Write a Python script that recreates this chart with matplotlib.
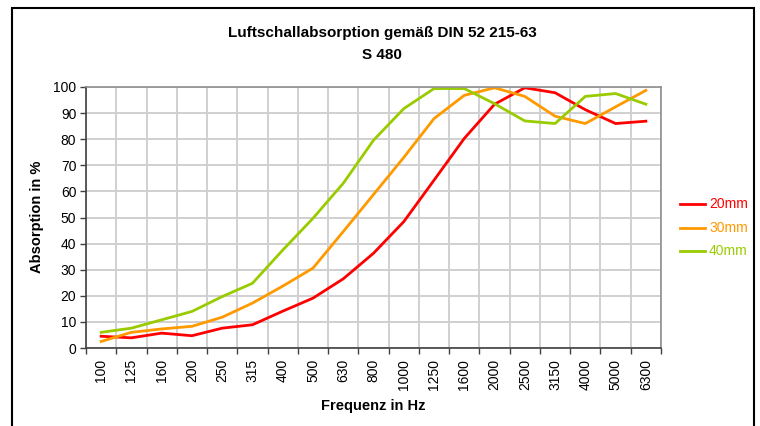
import matplotlib

matplotlib.use("Agg")
import matplotlib.pyplot as plt
from matplotlib.patches import Rectangle
from matplotlib.lines import Line2D
import numpy as np

plt.rcParams["font.family"] = ["Liberation Sans", "DejaVu Sans"]

freqs = ["100", "125", "160", "200", "250", "315", "400", "500", "630", "800",
         "1000", "1250", "1600", "2000", "2500", "3150", "4000", "5000", "6300"]
abs_20mm = [4.5, 3.9, 5.7, 4.7, 7.6, 8.9, 14.1, 19.1, 26.5, 36.3,
            48.4, 64.3, 80.3, 93.4, 99.7, 97.8, 91.3, 86.0, 86.9]
abs_30mm = [2.5, 6.0, 7.3, 8.3, 11.8, 17.2, 23.7, 30.6, 44.6, 58.8,
            73.0, 87.9, 96.8, 99.7, 96.4, 88.8, 86.0, 92.4, 98.7]
abs_40mm = [6.0, 7.6, 10.8, 14.0, 19.7, 24.8, 37.5, 49.7, 63.1, 79.6,
            91.7, 99.4, 99.4, 93.6, 87.0, 86.0, 96.4, 97.5, 93.4]
series = [("20mm", abs_20mm, "#ff0000"),
          ("30mm", abs_30mm, "#ff9900"),
          ("40mm", abs_40mm, "#99cc00")]

W, H = 760, 426
fig = plt.figure(figsize=(W / 100, H / 100), dpi=100)
ax = fig.add_axes([86 / W, 1 - 348 / H, (661 - 86) / W, (348 - 87) / H])

x = np.arange(len(freqs))
for name, vals, col in series:
    ax.plot(x, vals, color=col, linewidth=2.0, label=name, solid_joinstyle="round")

ax.set_xlim(-0.5, len(freqs) - 0.5)
ax.set_ylim(0, 100)
ax.set_yticks(range(0, 101, 10))
ax.set_xticks(np.arange(-0.5, len(freqs), 1.0))
ax.set_xticklabels([])
ax.set_xticks(x, freqs, minor=True)
ax.tick_params(axis="x", which="minor", length=0, rotation=90, labelsize=10, pad=8)
ax.tick_params(axis="x", which="major", length=4, width=1, color="#404040")
ax.tick_params(axis="y", length=4, width=1, color="#404040", labelsize=10, pad=3)
ax.grid(True, which="major", color="#d0d0d0", linewidth=1.4)
ax.set_axisbelow(True)
for side in ("top", "right"):
    ax.spines[side].set_color("#909090")
    ax.spines[side].set_linewidth(1.2)
for side in ("left", "bottom"):
    ax.spines[side].set_color("#404040")
    ax.spines[side].set_linewidth(1.2)

fig.text(373 / W, 1 - 406 / H, "Frequenz in Hz", ha="center", va="center",
         fontsize=10.5, fontweight="bold")
fig.text(37 / W, 1 - 217 / H, "Absorption in %", ha="center", va="center",
         rotation=90, fontsize=10.5, fontweight="bold")

fig.text(382 / W, 1 - 33 / H, "Luftschallabsorption gemäß DIN 52 215-63",
         ha="center", va="center", fontsize=11, fontweight="bold")
fig.text(382 / W, 1 - 55 / H, "S 480", ha="center", va="center",
         fontsize=11, fontweight="bold")

# legend drawn by hand, coloured text like the original
for i, (name, vals, col) in enumerate(series):
    yy = 1 - (204 + 23.5 * i) / H
    fig.add_artist(Line2D([680 / W, 705 / W], [yy, yy], color=col, linewidth=2,
                          transform=fig.transFigure))
    fig.text(709 / W, yy, name, color=col, fontsize=10, va="center", ha="left")

# outer chart frame (bottom edge runs past the image)
fig.add_artist(Rectangle((12 / W, -0.05), (754 - 12) / W, 1.05 - 8 / H,
                         transform=fig.transFigure, fill=False,
                         edgecolor="black", linewidth=1.5))

fig.savefig("out.png", dpi=100)
